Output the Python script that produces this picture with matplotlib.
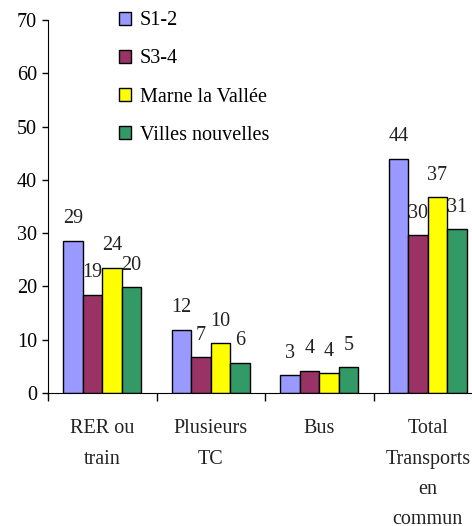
import numpy as np
import matplotlib
matplotlib.use("Agg")
import matplotlib.pyplot as plt

categories = ["RER ou\ntrain", "Plusieurs\nTC", "Bus", "Total\nTransports\nen\ncommun"]
series = ["S1-2", "S3-4", "Marne la Vallée", "Villes nouvelles"]
colors = ["#9999FF", "#993366", "#FFFF00", "#339966"]

s12 = [28.5, 11.9, 3.3, 43.9]
s34 = [18.4, 6.7, 4.1, 29.6]
marne = [23.5, 9.3, 3.7, 36.7]
villes = [19.8, 5.6, 4.8, 30.7]
labels = [
    [29, 12, 3, 44],
    [19, 7, 4, 30],
    [24, 10, 4, 37],
    [20, 6, 5, 31],
]

plt.rcParams["font.family"] = ["Liberation Serif", "DejaVu Serif"]
plt.rcParams["font.size"] = 14.5

fig = plt.figure(figsize=(4.72, 5.26), dpi=100)
ax = fig.add_axes([48 / 472, 1 - 393 / 526, 434 / 472, 373 / 526])

x = np.arange(len(categories))
w = 0.18
values = [s12, s34, marne, villes]
for k, (vals, col, name) in enumerate(zip(values, colors, series)):
    pos = x + (k - 1.5) * w
    ax.bar(pos, vals, width=w, color=col, edgecolor="black", linewidth=1, label=name)
    for p, v, lab in zip(pos, vals, labels[k]):
        ax.annotate(str(lab), (p, v), xytext=(0, 16), textcoords="offset points",
                    ha="center", va="center", color="#222222")

ax.set_xlim(-0.5, 3.5)
ax.set_ylim(0, 70)
ax.set_yticks(range(0, 71, 10))
ax.tick_params(axis="y", direction="out", length=4, width=1, pad=4)

ax.set_xticks(x)
ax.set_xticklabels(categories, linespacing=1.8, color="#222222")
ax.tick_params(axis="x", which="major", length=0, pad=19)
ax.set_xticks(np.arange(-0.5, 3.6, 1), minor=True)
ax.tick_params(axis="x", which="minor", direction="out", length=6, width=1)

for side in ["top", "right"]:
    ax.spines[side].set_visible(False)

ax.legend(loc="upper left", bbox_to_anchor=(0.144, 1.045), frameon=False,
          handlelength=0.62, handleheight=0.62, labelspacing=0.95, handletextpad=0.45,
          borderaxespad=0)

fig.savefig("out.png", dpi=100)
